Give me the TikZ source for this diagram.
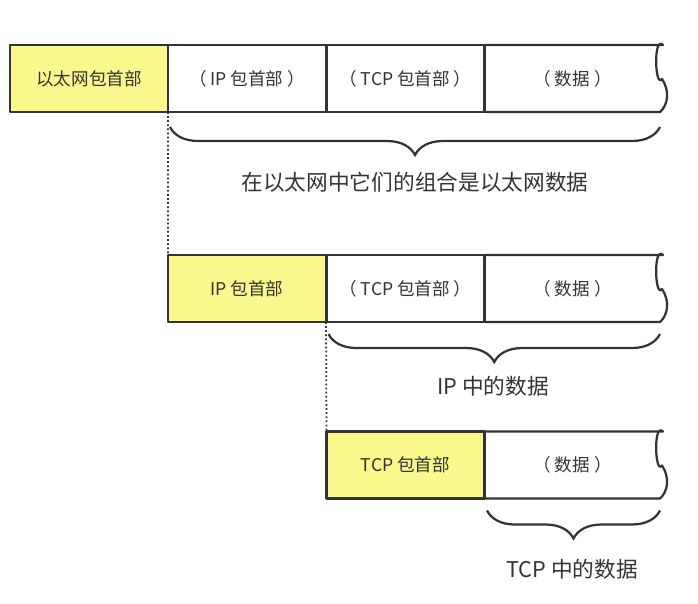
\documentclass[tikz,border=0pt]{standalone}
\usepackage{fontspec}
\setmainfont{Noto Sans CJK SC}
\usetikzlibrary{decorations.pathreplacing,calc}
\definecolor{hdryellow}{RGB}{250,248,140}
\definecolor{inkgray}{RGB}{51,51,51}
% torn right edge of the last (data) box
\newcommand{\tornend}[1]{%
  \draw[frame] (#1.south west) -- (#1.south east)
    .. controls +(8,-7) and +(8,12) .. ++(2,-33)
    .. controls +(-7,10) and +(-10,-10) .. ++(1,-34) -- (#1.north west);}
\begin{document}
\begin{tikzpicture}[x=0.03cm, y=-0.03cm, every node/.style={text=inkgray, inner sep=0pt, outer sep=0pt},
  frame/.style={draw=inkgray, line width=1.9pt, line join=round},
  hdr/.style={frame, fill=hdryellow, minimum width=4.74cm, minimum height=2.01cm, font=\fontsize{15}{18}\selectfont},
  cell/.style={frame, fill=white, minimum width=4.74cm, minimum height=2.01cm, font=\fontsize{15}{18}\selectfont},
  tail/.style={minimum width=5.25cm, minimum height=2.01cm, font=\fontsize{15}{18}\selectfont},
  brace/.style={draw=inkgray, line width=1.9pt, decorate, decoration={brace, mirror, amplitude=0.84cm}},
  lbl/.style={font=\fontsize{18.5}{22}\selectfont}]
\useasboundingbox (0,0) rectangle (698,603);

% ethernet frame
\node[hdr] (e0) at (89,78.5) {以太网包首部};
\node[cell] (e1) at (247,78.5) {（ IP 包首部 ）};
\node[cell] (e2) at (405.5,78.5) {（ TCP 包首部 ）};
\node[tail] (e3) at (572.5,78.5) {（ 数据 ）};
\tornend{e3}

% ip packet
\node[hdr] (i0) at (247,288.5) {IP 包首部};
\node[cell] (i1) at (405.5,288.5) {（ TCP 包首部 ）};
\node[tail] (i2) at (572.5,288.5) {（ 数据 ）};
\tornend{i2}

% tcp segment
\node[hdr] (t0) at (405.5,465) {TCP 包首部};
\node[tail] (t1) at (572.5,465) {（ 数据 ）};
\tornend{t1}

\draw[dotted, line width=1.5pt, inkgray] (e0.south east) -- (i0.north west);
\draw[dotted, line width=1.5pt, inkgray] (i0.south east) -- (t0.north west);

\draw[brace] ($(e1.south west)+(2,15)$) -- ($(e3.south east)+(0,15)$);
\node[lbl] (l0) at (415,182) {在以太网中它们的组合是以太网数据};
\draw[brace] ($(i1.south west)+(2,12)$) -- ($(i2.south east)+(0,12)$);
\node[lbl] (l1) at (493,386) {IP 中的数据};
\draw[brace] ($(t1.south west)+(2,12)$) -- ($(t1.south east)+(0,12)$);
\node[lbl] (l2) at (572,569) {TCP 中的数据};
\end{tikzpicture}
\end{document}
